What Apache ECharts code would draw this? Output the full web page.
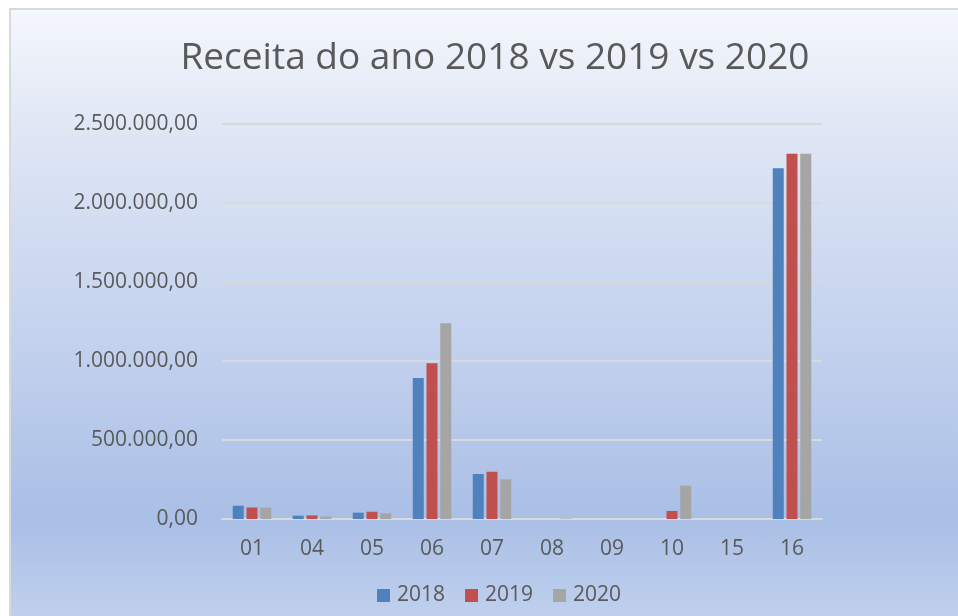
<!DOCTYPE html>
<html>
<head>
<meta charset="utf-8">
<script src="https://cdn.jsdelivr.net/npm/echarts@6/dist/echarts.min.js"></script>
<style>
  html, body { margin: 0; padding: 0; background: #ffffff; width: 958px; height: 616px; overflow: hidden; }
  #bg { position: absolute; left: 9px; top: 8px; width: 980px; height: 640px;
        border: 2px solid #d9d9d9; box-sizing: border-box;
        background: linear-gradient(to bottom, #f4f7fc 0%, #e0e7f5 18%, #c5d3ee 50%, #aabfe6 80%, #c6d5f0 100%); }
  #chart { position: absolute; left: 0; top: 0; width: 958px; height: 616px; }
</style>
</head>
<body>
<div id="bg"></div>
<div id="chart"></div>
<script>
const categories = ['01', '04', '05', '06', '07', '08', '09', '10', '15', '16'];
const seriesNames = ['2018', '2019', '2020'];
const values2018 = [84000, 21000, 40000, 892000, 285000, 0, 0, 0, 0, 2220000];
const values2019 = [73000, 23000, 46000, 985000, 299000, 0, 0, 51000, 0, 2312000];
const values2020 = [72000, 15000, 36000, 1239000, 251000, 3000, 0, 211000, 0, 2312000];
const colors = ['#4f81bd', '#c0504d', '#a5a5a5'];

function fmtBR(v) {
  const parts = Math.round(v).toString().replace(/\B(?=(\d{3})+(?!\d))/g, '.');
  return parts + ',00';
}

const chart = echarts.init(document.getElementById('chart'), null, { renderer: 'canvas' });
const textColor = '#595959';
const font = 'Open Sans';
const allValues = [values2018, values2019, values2020];

chart.setOption({
  backgroundColor: 'transparent',
  animation: false,
  color: colors,
  title: {
    text: 'Receita do ano 2018 vs 2019 vs 2020',
    left: 490,
    textAlign: 'center',
    top: 35,
    textStyle: { fontFamily: font, fontSize: 37, fontWeight: 'normal', color: textColor }
  },
  legend: {
    data: seriesNames,
    left: 372,
    top: 580,
    itemWidth: 13,
    itemHeight: 13,
    itemGap: 20,
    icon: 'rect',
    textStyle: { fontFamily: font, fontSize: 21, color: textColor, padding: [0, 0, 0, 2] }
  },
  grid: { left: 222, right: 136, top: 124, bottom: 97, containLabel: false },
  xAxis: {
    type: 'category',
    data: categories,
    axisLine: { show: true, lineStyle: { color: '#d9d9d9', width: 2 } },
    axisTick: { show: false },
    axisLabel: { fontFamily: font, fontSize: 21, color: textColor, margin: 20 }
  },
  yAxis: {
    type: 'value',
    min: 0,
    max: 2500000,
    interval: 500000,
    axisLine: { show: false },
    axisTick: { show: false },
    splitLine: { lineStyle: { color: '#d9d9d9', width: 2 } },
    axisLabel: { fontFamily: font, fontSize: 21, color: textColor, margin: 24, formatter: fmtBR }
  },
  series: seriesNames.map((name, i) => ({
    name: name,
    type: 'bar',
    data: allValues[i],
    barWidth: 11,
    barGap: '25%',
    itemStyle: { color: colors[i] }
  }))
});
</script>
</body>
</html>
